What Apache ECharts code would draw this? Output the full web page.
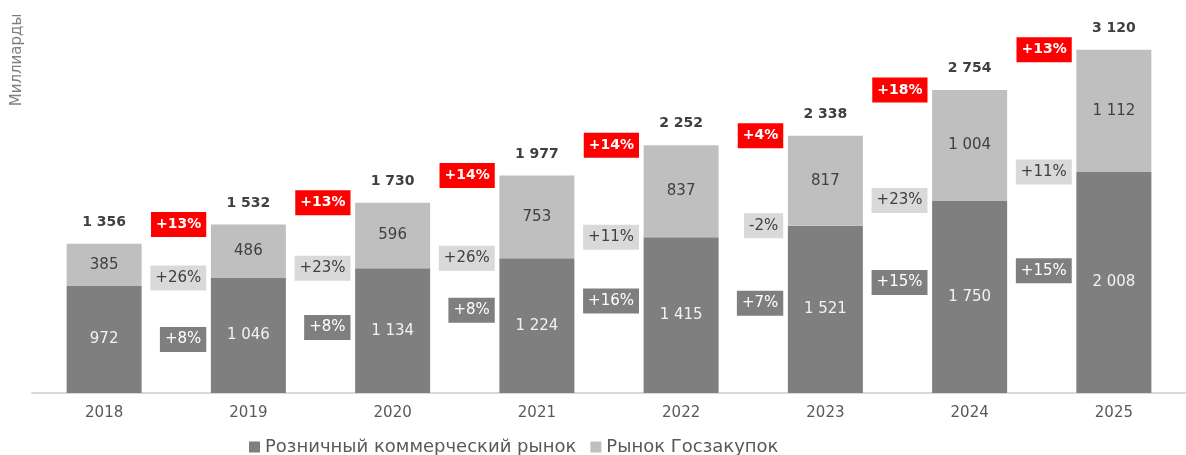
<!DOCTYPE html>
<html>
<head>
  <meta charset="utf-8">
  <title>Рынок по годам</title>
  <style type="text/css">
    html, body { margin: 0; padding: 0; background: #fff; }
    #main { width: 1186px; height: 455px; }
  </style>
</head>
<body>
<div id="main"></div>
<script type="text/javascript" src="https://cdn.jsdelivr.net/npm/echarts@6/dist/echarts.min.js"></script>
<script type="text/javascript">
  // data
  var years = ['2018', '2019', '2020', '2021', '2022', '2023', '2024', '2025'];
  var retail = [972, 1046, 1134, 1224, 1415, 1521, 1750, 2008];
  var gos = [385, 486, 596, 753, 837, 817, 1004, 1112];
  var totals = [1356, 1532, 1730, 1977, 2252, 2338, 2754, 3120];
  var totalGrowth = ['+13%', '+13%', '+14%', '+14%', '+4%', '+18%', '+13%'];
  var gosGrowth = ['+26%', '+23%', '+26%', '+11%', '-2%', '+23%', '+11%'];
  var retailGrowth = ['+8%', '+8%', '+8%', '+16%', '+7%', '+15%', '+15%'];

  var FONT = '"DejaVu Sans"';

  function fmt(v) {
    return String(v).replace(/\B(?=(\d{3})+(?!\d))/g, ' ');
  }

  // growth boxes sit between two years; height taken from the next year's value
  function between(levels, texts) {
    var out = [];
    for (var i = 0; i < texts.length; i++) {
      out.push({ value: [i + 0.5, levels[i + 1]], text: texts[i] });
    }
    return out;
  }

  function boxSeries(levels, texts, bg, color, bold) {
    return {
      type: 'scatter',
      xAxisIndex: 1,
      yAxisIndex: 0,
      symbolSize: 1,
      itemStyle: { color: 'rgba(0,0,0,0)', opacity: 1 },
      silent: true,
      z: 5,
      data: between(levels, texts),
      label: {
        show: true,
        position: 'inside',
        align: 'right',
        verticalAlign: 'middle',
        offset: [30, 0],
        opacity: 1,
        formatter: function (p) { return p.data.text; },
        backgroundColor: bg,
        color: color,
        fontFamily: FONT,
        fontSize: bold ? 14 : 15,
        fontWeight: bold ? 'bold' : 'normal',
        lineHeight: 15,
        padding: [5, 5, 5, 5]
      }
    };
  }

  var myChart = echarts.init(document.getElementById('main'));

  var option = {
    backgroundColor: '#fff',
    animation: false,
    grid: { left: 32, right: -12, top: 8, bottom: 62 },
    legend: {
      data: ['Розничный коммерческий рынок', 'Рынок Госзакупок'],
      left: 249,
      top: 437,
      padding: 0,
      icon: 'rect',
      itemWidth: 11,
      itemHeight: 11,
      itemGap: 14,
      textStyle: { color: '#595959', fontFamily: FONT, fontSize: 18, lineHeight: 20 }
    },
    graphic: [{
      type: 'text',
      x: 17,
      y: 60,
      rotation: Math.PI / 2,
      style: {
        text: 'Миллиарды',
        fill: '#7f7f7f',
        font: '15px "DejaVu Sans"',
        align: 'center',
        verticalAlign: 'middle'
      }
    }],
    xAxis: [
      {
        type: 'category',
        data: years,
        axisLine: { lineStyle: { color: '#d9d9d9', width: 2 } },
        axisTick: { show: false },
        axisLabel: { color: '#595959', fontFamily: FONT, fontSize: 15, margin: 13 }
      },
      {
        type: 'value',
        min: -0.5,
        max: 7.5,
        show: false
      }
    ],
    yAxis: {
      type: 'value',
      min: 0,
      max: 3500,
      show: false
    },
    series: [
      {
        name: 'Розничный коммерческий рынок',
        type: 'bar',
        stack: 'total',
        barWidth: '52%',
        data: retail,
        itemStyle: { color: '#7f7f7f' },
        label: {
          show: true,
          position: 'inside',
          color: '#f2f2f2',
          fontFamily: FONT,
          fontSize: 15,
          formatter: function (p) { return fmt(p.value); }
        }
      },
      {
        name: 'Рынок Госзакупок',
        type: 'bar',
        stack: 'total',
        data: gos,
        itemStyle: { color: '#bfbfbf' },
        label: {
          show: true,
          position: 'inside',
          color: '#404040',
          fontFamily: FONT,
          fontSize: 15,
          formatter: function (p) { return fmt(p.value); }
        }
      },
      {
        name: 'totals',
        type: 'scatter',
        symbolSize: 1,
        itemStyle: { color: 'rgba(0,0,0,0)', opacity: 1 },
        silent: true,
        data: totals,
        label: {
          show: true,
          position: 'top',
          distance: 14,
          opacity: 1,
          color: '#404040',
          fontFamily: FONT,
          fontSize: 14,
          fontWeight: 'bold',
          formatter: function (p) { return fmt(p.value); }
        }
      },
      boxSeries(totals, totalGrowth, '#ff0000', '#ffffff', true),
      boxSeries(retail, gosGrowth, '#d9d9d9', '#404040', false),
      boxSeries(gos, retailGrowth, '#7f7f7f', '#ffffff', false)
    ]
  };

  myChart.setOption(option);
</script>
</body>
</html>
